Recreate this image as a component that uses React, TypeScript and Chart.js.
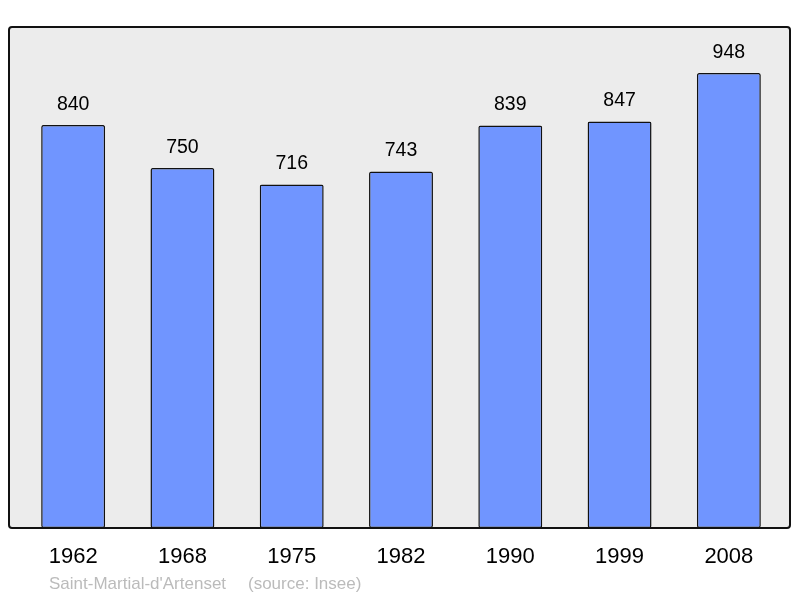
import React, { useEffect, useRef } from 'react';
import Chart from 'chart.js/auto';

const years = ['1962', '1968', '1975', '1982', '1990', '1999', '2008'];
const population = [840, 750, 716, 743, 839, 847, 948];
const placeName = 'Saint-Martial-d\'Artenset';
const sourceNote = '(source: Insee)';

const FONT = '"Liberation Sans", Arial, sans-serif';

const App = () => {
  const chartRef = useRef<HTMLCanvasElement>(null);
  const chartInstance = useRef<Chart | null>(null);

  useEffect(() => {
    if (chartInstance.current) {
      chartInstance.current.destroy();
    }

    const ctx = chartRef.current?.getContext('2d');
    if (ctx) {
      chartInstance.current = new Chart(ctx, {
        type: 'bar',
        data: {
          labels: years,
          datasets: [{
            data: population,
            backgroundColor: '#7095ff',
            borderColor: '#111',
            borderWidth: 1.5,
            borderRadius: 2,
            borderSkipped: false,
            categoryPercentage: 1,
            barPercentage: 0.585,
          }]
        },
        options: {
          animation: false,
          responsive: false,
          maintainAspectRatio: false,
          layout: {
            padding: { top: 27, left: 18.5, right: 16.5, bottom: 30 }
          },
          scales: {
            x: {
              grid: { display: false },
              border: { display: false },
              ticks: { display: false },
              afterFit: (scale: any) => {
                scale.height = 40;
              },
            },
            y: {
              display: false,
              min: 0,
              max: 1044,
            },
          },
          plugins: {
            legend: { display: false },
            tooltip: { enabled: false },
          },
        },
        plugins: [{
          id: 'frameAndLabels',
          beforeDraw: (chart) => {
            const { ctx } = chart;
            ctx.save();
            ctx.beginPath();
            ctx.roundRect(9, 27, 781, 501, 3);
            ctx.fillStyle = '#ececec';
            ctx.fill();
            ctx.restore();
          },
          afterDatasetsDraw: (chart) => {
            const { ctx, scales } = chart;
            ctx.save();
            ctx.beginPath();
            ctx.roundRect(9, 27, 781, 501, 3);
            ctx.lineWidth = 2;
            ctx.strokeStyle = '#111';
            ctx.stroke();

            const meta = chart.getDatasetMeta(0);
            ctx.fillStyle = '#000';
            ctx.font = `19.5px ${FONT}`;
            ctx.textAlign = 'center';
            ctx.textBaseline = 'middle';
            meta.data.forEach((bar: any, i: number) => {
              ctx.fillText(String(population[i]), bar.x, bar.y - 20.5);
            });

            // year labels under the frame
            ctx.font = `22px ${FONT}`;
            years.forEach((y, i) => {
              ctx.fillText(y, scales.x.getPixelForValue(i), 557);
            });

            ctx.fillStyle = '#bbbbbb';
            ctx.font = `17px ${FONT}`;
            ctx.textAlign = 'left';
            ctx.fillText(placeName, 49, 584);
            ctx.fillText(sourceNote, 248, 584);
            ctx.restore();
          }
        }],
      });
    }

    return () => {
      if (chartInstance.current) {
        chartInstance.current.destroy();
      }
    };
  }, []);

  return (
    <div style={{ position: 'absolute', left: 0, top: 0, width: 800, height: 598, background: '#fff' }}>
      <canvas ref={chartRef} width={800} height={598} style={{ width: 800, height: 598 }} />
    </div>
  );
};

export default App;
